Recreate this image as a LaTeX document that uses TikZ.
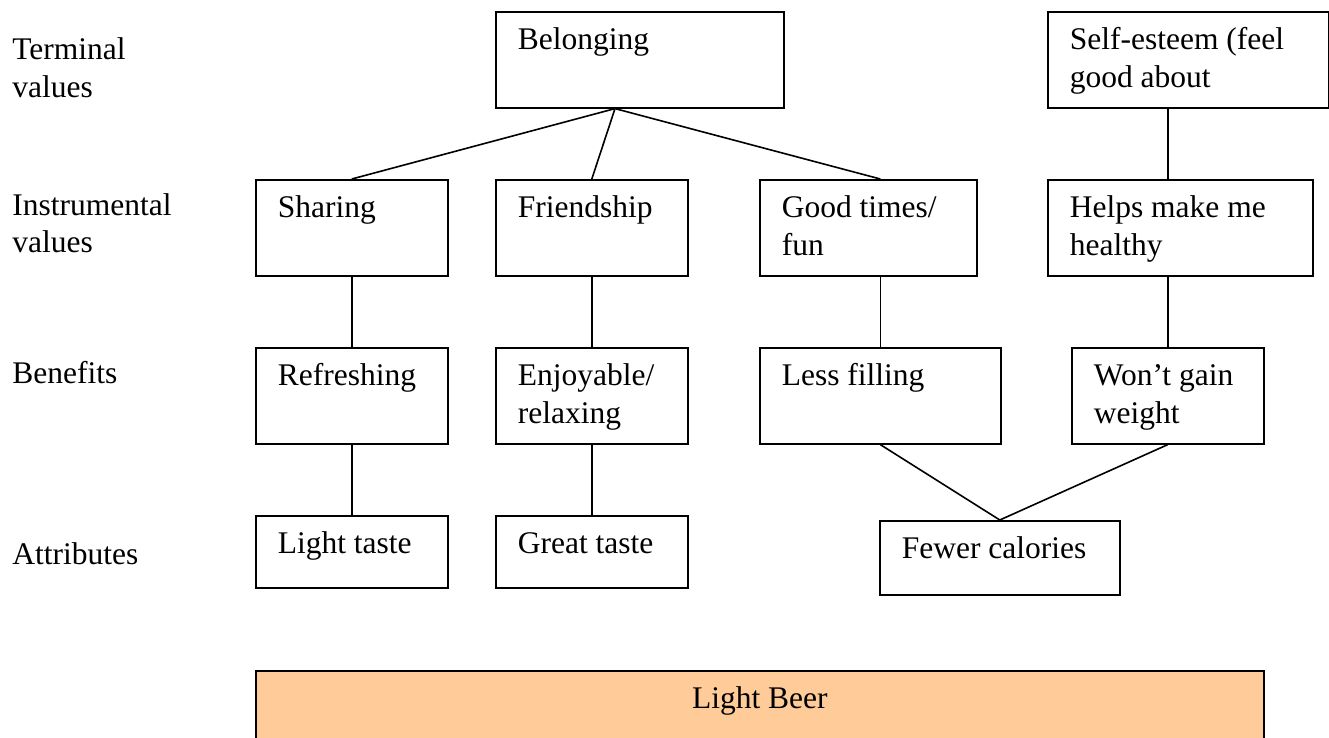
\documentclass[tikz,border=0pt]{standalone}
\usepackage{fontspec}
\setmainfont{Liberation Serif}
\usetikzlibrary{calc}
\definecolor{beerfill}{HTML}{FFCC99}
\newcommand\diagfont{\fontsize{15.75pt}{18.75pt}\selectfont}
\newcommand\mycell[3]{\parbox[t][#2][t]{#1}{\raggedright\strut #3}}
\newcommand\mycellc[3]{\parbox[t][#2][t]{#1}{\centering\strut #3}}
\newcommand\mylab[1]{\parbox[t]{110pt}{\raggedright\strut #1}}
\begin{document}
\begin{tikzpicture}[x=0.5pt,y=-0.5pt,
  box/.style={draw, line width=0.8pt, anchor=north west, inner xsep=11pt, inner ysep=5.875pt, font=\diagfont},
  lab/.style={anchor=base west, inner sep=0pt, font=\diagfont},
  link/.style={line width=0.8pt}]
\useasboundingbox (0,0) rectangle (1329,738);
\clip (0,0) rectangle (1329,738);

% left labels
\node[lab] (lterm) at (12,60) {\mylab{Terminal\\values}};
\node[lab] (linst) at (12,215) {\mylab{Instrumental\\values}};
\node[lab] (lben) at (12,383) {\mylab{Benefits}};
\node[lab] (lattr) at (12,564) {\mylab{Attributes}};

% terminal values
\node[box] (bel) at (495,11) {\mycell{122pt}{36.25pt}{Belonging}};
\node[box] (self) at (1047,11) {\mycell{118.5pt}{36.25pt}{Self-esteem (feel\\good about}};

% instrumental values
\node[box] (shar) at (255,179) {\mycell{74pt}{36.25pt}{Sharing}};
\node[box] (fri) at (495,179) {\mycell{74pt}{36.25pt}{Friendship}};
\node[box] (good) at (759,179) {\mycell{86.5pt}{36.25pt}{Good times/\\fun}};
\node[box] (helps) at (1047,179) {\mycell{110.5pt}{36.25pt}{Helps make me\\healthy}};

% benefits
\node[box] (refr) at (255,347) {\mycell{74pt}{36.25pt}{Refreshing}};
\node[box] (enj) at (495,347) {\mycell{74pt}{36.25pt}{Enjoyable/\\relaxing}};
\node[box] (less) at (759,347) {\mycell{98.5pt}{36.25pt}{Less filling}};
\node[box] (wont) at (1071,347) {\mycell{74pt}{36.25pt}{Won’t gain\\weight}};

% attributes
\node[box] (lt) at (255,515) {\mycell{74pt}{24.25pt}{Light taste}};
\node[box] (gt) at (495,515) {\mycell{74pt}{24.25pt}{Great taste}};
\node[box] (few) at (879,520) {\mycell{98pt}{25.25pt}{Fewer calories}};

% product
\node[box, fill=beerfill] (beer) at (255,670) {\mycellc{482pt}{26.25pt}{Light Beer}};

% connectors
\coordinate (belj) at ($(bel.south west)+(120,0)$);
\coordinate (goodj) at (good.north -| less.north);
\draw[link] (belj) -- (shar.north);
\draw[link] (belj) -- (fri.north);
\draw[link] (belj) -- (goodj);
\draw[link] (good.south -| less.north) -- (less.north);
\draw[link] (shar.south) -- (refr.north);
\draw[link] (refr.south) -- (lt.north);
\draw[link] (fri.south) -- (enj.north);
\draw[link] (enj.south) -- (gt.north);
\draw[link] (self.south -| wont.north) -- (helps.north -| wont.north);
\draw[link] (helps.south -| wont.north) -- (wont.north);
\draw[link] (less.south) -- (few.north);
\draw[link] (wont.south) -- (few.north);
\end{tikzpicture}
\end{document}
